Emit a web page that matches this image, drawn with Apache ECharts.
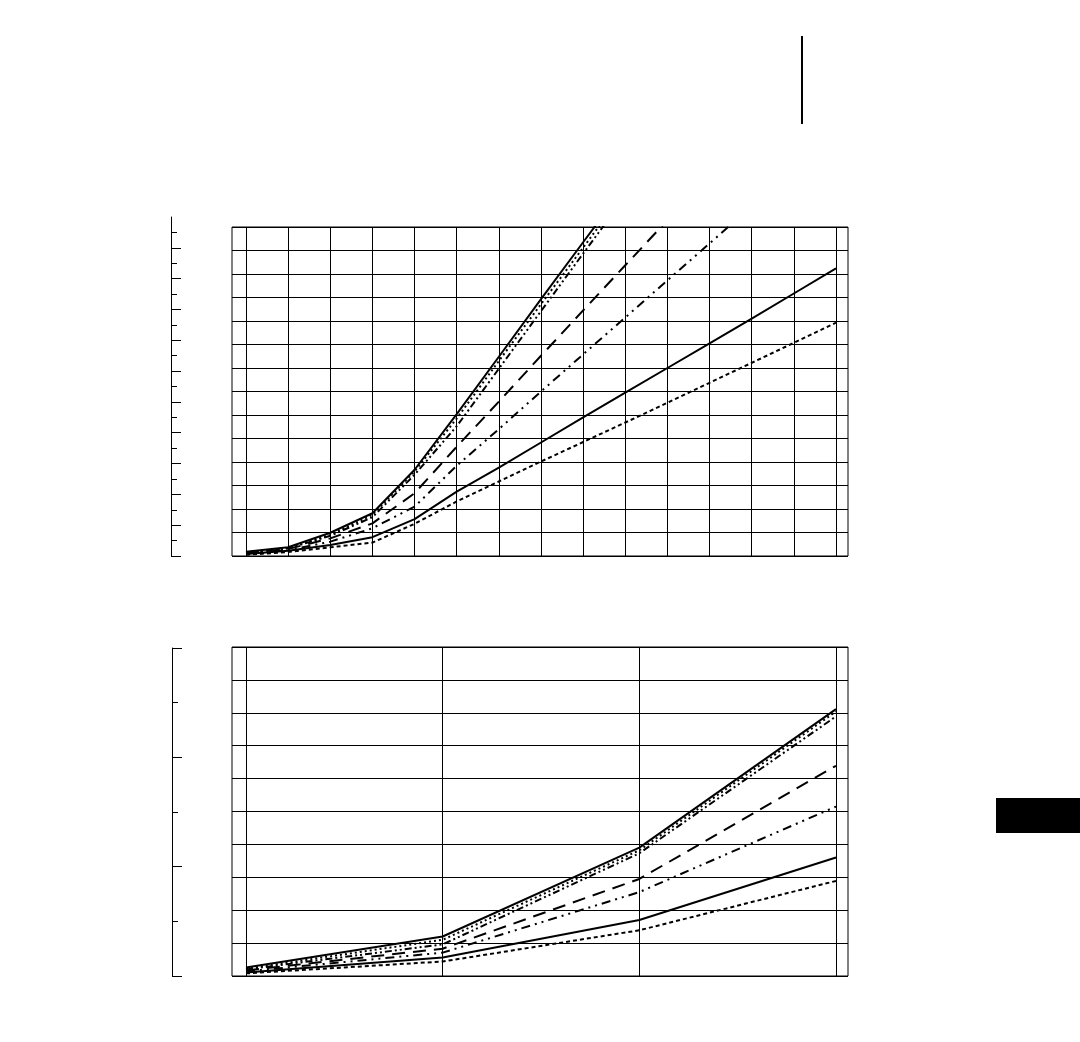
<!DOCTYPE html>
<html>
<head>
<meta charset="utf-8">
<script src="https://cdn.jsdelivr.net/npm/echarts@6/dist/echarts.min.js"></script>
<style>
  html, body { margin: 0; padding: 0; background: #fff; }
  #chart { width: 1080px; height: 1042px; }
</style>
</head>
<body>
<div id="chart"></div>
<script>
// upper panel: 15 steps, grid units (14 rows visible)
const topCategories = ['0', '1', '2', '3', '4', '5', '6', '7', '8', '9', '10', '11', '12', '13', '14']
const topS1 = [0.18, 0.37, 0.99, 1.82, 3.67, 6.04, 8.48, 10.93, 13.35, 15.76]
const topS2 = [0.16, 0.34, 0.90, 1.75, 3.60, 5.85, 8.30, 10.72, 13.12, 15.55]
const topS3 = [0.15, 0.32, 0.86, 1.65, 3.46, 5.52, 7.97, 10.42, 12.87, 15.30]
const topS4 = [0.13, 0.30, 0.75, 1.39, 2.67, 4.65, 6.57, 8.52, 10.45, 12.37, 14.29, 16.20]
const topS5 = [0.11, 0.25, 0.61, 1.18, 2.10, 3.84, 5.40, 7.00, 8.58, 10.15, 11.73, 13.30, 14.88]
const topS6 = [0.08, 0.22, 0.47, 0.80, 1.57, 2.74, 3.76, 4.83, 5.90, 6.95, 8.00, 9.05, 10.10, 11.17, 12.24]
const topS7 = [0.05, 0.17, 0.37, 0.57, 1.37, 2.32, 3.17, 4.02, 4.85, 5.68, 6.52, 7.37, 8.22, 9.07, 9.93]
const topAxisTicks = [0, 1, 2, 3, 4, 5, 6, 7, 8, 9, 10]

// lower panel: 4 steps, 10 rows
const bottomCategories = ['0', '1', '2', '3']
const botS1 = [0.26, 1.20, 3.90, 8.11]
const botS2 = [0.22, 1.10, 3.82, 8.04]
const botS3 = [0.20, 0.96, 3.73, 7.89]
const botS4 = [0.17, 0.83, 2.95, 6.39]
const botS5 = [0.14, 0.71, 2.55, 5.15]
const botS6 = [0.11, 0.56, 1.70, 3.60]
const botS7 = [0.08, 0.44, 1.39, 2.89]
const bottomAxisTicks = [0, 1, 2, 3]

const lineStyles = [
  { type: 'solid', width: 2 },
  { type: [2, 3], width: 2 },
  { type: [7, 3, 2, 3, 2, 3], width: 2 },
  { type: [13, 8], width: 2 },
  { type: [9, 5, 2, 5, 2, 5], width: 2 },
  { type: 'solid', width: 2 },
  { type: [4, 3], width: 2 },
]

const black = '#000'
const hidden = { show: false }

function frameAxes(grid, rows) {
  return {
    x: { gridIndex: grid, type: 'value', show: false, min: 0, max: 1 },
    y: {
      gridIndex: grid, type: 'value', min: 0, max: rows, interval: 1,
      axisLine: hidden, axisTick: hidden, axisLabel: hidden,
      splitLine: { show: true, lineStyle: { color: black, width: 1 } },
    },
  }
}

function dataAxes(grid, cats, rows) {
  return {
    x: {
      gridIndex: grid, type: 'category', data: cats, boundaryGap: false,
      axisLine: hidden, axisTick: hidden, axisLabel: hidden,
      splitLine: { show: true, lineStyle: { color: black, width: 1 } },
    },
    y: {
      gridIndex: grid, type: 'value', min: 0, max: rows, interval: 1,
      axisLine: hidden, axisTick: hidden, axisLabel: hidden, splitLine: hidden,
    },
  }
}

function sideAxes(grid, max, ticks) {
  return {
    x: { gridIndex: grid, type: 'value', show: false, min: 0, max: 1 },
    y: {
      gridIndex: grid, type: 'value', min: 0, max: max, interval: 1,
      axisLine: { show: true, lineStyle: { color: black, width: 1 } },
      axisTick: { show: true, inside: true, length: 10, customValues: ticks, lineStyle: { color: black, width: 1 } },
      minorTick: { show: true, splitNumber: 2, length: 6, lineStyle: { color: black, width: 1 } },
      axisLabel: hidden, splitLine: hidden, minorSplitLine: hidden,
    },
  }
}

const axes = [
  frameAxes(0, 14),
  dataAxes(1, topCategories, 14),
  sideAxes(2, 11, topAxisTicks),
  frameAxes(3, 10),
  dataAxes(4, bottomCategories, 10),
  sideAxes(5, 3, bottomAxisTicks),
]

function lineSeries(data, i, axisIndex) {
  return {
    type: 'line',
    data: data,
    xAxisIndex: axisIndex,
    yAxisIndex: axisIndex,
    symbol: 'none',
    silent: true,
    clip: true,
    lineStyle: Object.assign({ color: black }, lineStyles[i]),
  }
}

const topSeries = [topS1, topS2, topS3, topS4, topS5, topS6, topS7].map((d, i) => lineSeries(d, i, 1))
const botSeries = [botS1, botS2, botS3, botS4, botS5, botS6, botS7].map((d, i) => lineSeries(d, i, 4))

const chart = echarts.init(document.getElementById('chart'))
chart.setOption({
  animation: false,
  backgroundColor: '#fff',
  grid: [
    { left: 232, top: 227, width: 616, height: 329, show: true, borderColor: black, borderWidth: 1 },
    { left: 246, top: 227, width: 590, height: 329 },
    { left: 171, top: 217, width: 1, height: 339 },
    { left: 232, top: 647, width: 616, height: 329, show: true, borderColor: black, borderWidth: 1 },
    { left: 246, top: 647, width: 590, height: 329 },
    { left: 172, top: 648, width: 1, height: 328 },
  ],
  xAxis: axes.map(a => a.x),
  yAxis: axes.map(a => a.y),
  series: topSeries.concat(botSeries),
  graphic: [
    { type: 'line', shape: { x1: 802, y1: 36, x2: 802, y2: 124 }, style: { stroke: black, lineWidth: 2 } },
    { type: 'rect', shape: { x: 996, y: 798, width: 84, height: 35 }, style: { fill: black } },
  ],
})
</script>
</body>
</html>
